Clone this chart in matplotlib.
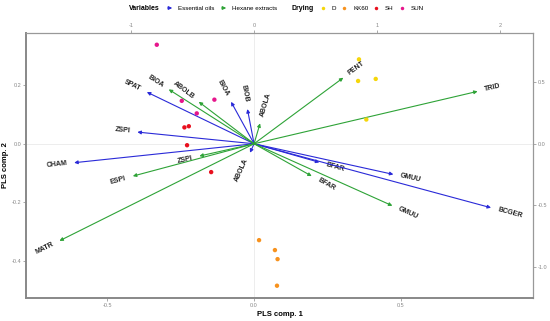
import numpy as np
import matplotlib
matplotlib.use("Agg")
import matplotlib.pyplot as plt
from matplotlib.lines import Line2D

plt.rcParams['font.family'] = ['Liberation Sans', 'DejaVu Sans']
plt.rcParams['axes.unicode_minus'] = False

# sample scores (PLS comp. 1 / comp. 2), grouped by drying method
drying = ['D', 'KK60', 'SH', 'SUN']
drying_colors = ['#f5d60a', '#f7921e', '#e8101e', '#e6168c']
score_x = {
    'D': [0.357, 0.354, 0.414, 0.382],
    'KK60': [0.017, 0.071, 0.080, 0.078],
    'SH': [-0.237, -0.222, -0.228, -0.146],
    'SUN': [-0.331, -0.246, -0.135, -0.195],
}
score_y = {
    'D': [0.289, 0.215, 0.222, 0.083],
    'KK60': [-0.330, -0.364, -0.395, -0.486],
    'SH': [0.056, 0.060, -0.005, -0.097],
    'SUN': [0.339, 0.147, 0.151, 0.104],
}

# variable loadings (secondary axes scale)
eo_names = ['SPAT', 'BIOA', 'BIOB', 'ZSPI', 'CHAM', 'ABOLA', 'BFAR', 'GMUU', 'BCGER']
eo_x = [-0.872, -0.187, -0.054, -0.949, -1.463, -0.033, 0.531, 1.133, 1.927]
eo_y = [0.420, 0.341, 0.282, 0.095, -0.154, -0.073, -0.151, -0.249, -0.520]

he_names = ['BIOA', 'ABOLB', 'ABOLA', 'ZSPI', 'ESPI', 'MATR', 'PENT', 'TRID', 'BFAR', 'GMUU']
he_x = [-0.694, -0.450, 0.049, -0.445, -0.986, -1.583, 0.726, 1.818, 0.469, 1.125]
he_y = [0.442, 0.341, 0.166, -0.100, -0.263, -0.789, 0.537, 0.426, -0.263, -0.504]

EO_COL = '#2a2ad8'
HE_COL = '#2ea337'

# ratio between loading axes and score axes
SX = 2.390
SY = 2.374

fig = plt.figure(figsize=(5.5, 3.21), dpi=100)
ax = fig.add_axes([0.0473, 0.0717, 0.9217, 0.8253])
ax.set_xlim(-0.776, 0.949)
ax.set_ylim(-0.528, 0.379)

ax.axhline(0, color='#e6e6e6', lw=0.5, zorder=0)
ax.axvline(0, color='#e6e6e6', lw=0.5, zorder=0)


def draw_vars(names, xs, ys, color):
    for name, lx, ly in zip(names, xs, ys):
        px, py = lx / SX, ly / SY
        ax.annotate('', xy=(px, py), xytext=(0, 0),
                    arrowprops=dict(arrowstyle='-|>', color=color, lw=0.8,
                                    mutation_scale=5, shrinkA=0, shrinkB=0))
        ang = np.degrees(np.arctan2(ly, lx))
        rot = ang
        if rot > 90:
            rot -= 180
        elif rot < -90:
            rot += 180
        d = np.hypot(lx, ly)
        off = 5.0
        ox, oy = off * lx / d, off * ly / d
        ax.annotate(name, xy=(px, py), xytext=(ox, oy), textcoords='offset points',
                    rotation=rot, rotation_mode='anchor',
                    ha='left' if lx >= 0 else 'right', va='center',
                    fontsize=5, fontweight='bold', color='#222222')


draw_vars(eo_names, eo_x, eo_y, EO_COL)
draw_vars(he_names, he_x, he_y, HE_COL)

for grp, col in zip(drying, drying_colors):
    ax.scatter(score_x[grp], score_y[grp], s=10, color=col, edgecolors='none', zorder=5)

# axes look
for side in ['left', 'bottom']:
    ax.spines[side].set_color('#888888')
    ax.spines[side].set_linewidth(1.4)
for side in ['top', 'right']:
    ax.spines[side].set_color('#999999')
    ax.spines[side].set_linewidth(0.9)

ax.set_xticks([-0.5, 0.0, 0.5])
ax.set_xticklabels(['-0.5', '0.0', '0.5'])
ax.set_yticks([-0.4, -0.2, 0.0, 0.2])
ax.set_yticklabels(['-0.4', '-0.2', '0.0', '0.2'])
ax.tick_params(labelsize=4, colors='#888888', length=2, width=0.5, pad=1.5)

top = ax.secondary_xaxis('top', functions=(lambda v: v * SX, lambda v: v / SX))
top.set_xticks([-1, 0, 1, 2])
top.set_xticklabels(['-1', '0', '1', '2'])
top.tick_params(labelsize=4, colors='#888888', length=2, width=0.5, pad=1.5)
top.spines['top'].set_visible(False)

right = ax.secondary_yaxis('right', functions=(lambda v: v * SY, lambda v: v / SY))
right.set_yticks([-1.0, -0.5, 0.0, 0.5])
right.set_yticklabels(['-1.0', '-0.5', '0.0', '0.5'])
right.tick_params(labelsize=4, colors='#888888', length=2, width=0.5, pad=1.5)
right.spines['right'].set_visible(False)

ax.set_xlabel('PLS comp. 1', fontsize=5.5, fontweight='bold', labelpad=2)
ax.set_ylabel('PLS comp. 2', fontsize=5.5, fontweight='bold', labelpad=2)

# legend strip on top
ly = 1 - 8 / 321
fs = 4.5
fig.text(129 / 550, ly, 'Variables', fontsize=5, fontweight='bold', va='center')
for x0, col, lab in [(165, EO_COL, 'Essential oils'), (219, HE_COL, 'Hexane extracts')]:
    fig.patches.append(matplotlib.patches.FancyArrowPatch(
        (x0 / 550, ly), ((x0 + 10) / 550, ly), transform=fig.transFigure,
        arrowstyle='-|>', mutation_scale=5, color=col, lw=0.8))
    fig.text((x0 + 13) / 550, ly, lab, fontsize=fs, va='center')
fig.text(291 / 550, ly, 'Drying', fontsize=5, fontweight='bold', va='center')
for x0, col, lab in zip([323, 344, 376, 402], drying_colors, drying):
    fig.add_artist(Line2D([x0 / 550], [ly], marker='o', markersize=2.5, color=col,
                          markeredgewidth=0, transform=fig.transFigure))
    fig.text((x0 + 9) / 550, ly, lab, fontsize=fs, va='center')

fig.savefig('out.png', dpi=100)
